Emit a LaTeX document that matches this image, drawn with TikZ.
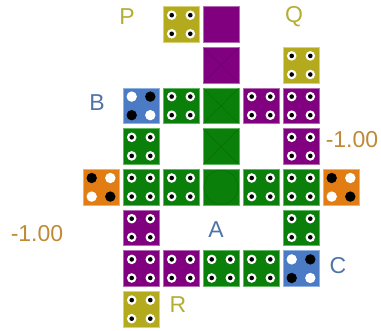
\documentclass[tikz,border=0pt]{standalone}
\usepackage{fontspec}
\setmainfont{Liberation Sans}
\definecolor{gr}{HTML}{0A800A}
\definecolor{grb}{HTML}{62B862}
\definecolor{grx}{HTML}{087008}
\definecolor{pu}{HTML}{800080}
\definecolor{pub}{HTML}{B36AB3}
\definecolor{pux}{HTML}{6E006E}
\definecolor{ye}{HTML}{B3AA1E}
\definecolor{yeb}{HTML}{D8D278}
\definecolor{bl}{HTML}{4A7BC4}
\definecolor{blb}{HTML}{90B2E2}
\definecolor{orng}{HTML}{E27D14}
\definecolor{lblY}{HTML}{B5AE35}
\definecolor{lblB}{HTML}{4F74A8}
\definecolor{lblO}{HTML}{C08A35}
\tikzset{
  cellbase/.style={minimum size=35.8pt, inner sep=0pt, line width=0.8pt},
  gcell/.style={cellbase, draw=grb, fill=gr},
  pcell/.style={cellbase, draw=pub, fill=pu},
  ycell/.style={cellbase, draw=yeb, fill=ye},
  bcell/.style={cellbase, draw=blb, fill=bl},
  ocell/.style={cellbase, draw=orng!60!white, fill=orng},
  lbl/.style={inner sep=0pt, font=\fontsize{23}{23}\selectfont},
}
\newcommand\ringdots[1]{%
  \foreach \dx/\dy in {-9.3/-9.3,9.3/-9.3,-9.3/9.3,9.3/9.3}{%
    \fill[white] ([shift={(\dx,\dy)}]#1.center) circle[radius=4.8pt];
    \fill[black] ([shift={(\dx,\dy)}]#1.center) circle[radius=2.3pt];}}
\newcommand\bwdots[3]{% node, color of TL/BR, color of TR/BL
  \foreach \dx/\dy in {-9.3/-9.3,9.3/9.3}{\fill[#2] ([shift={(\dx,\dy)}]#1.center) circle[radius=5.2pt];}
  \foreach \dx/\dy in {9.3/-9.3,-9.3/9.3}{\fill[#3] ([shift={(\dx,\dy)}]#1.center) circle[radius=5.2pt];}}
\newcommand\xmark[2]{%
  \draw[#2, line width=0.6pt] ([shift={(1,1)}]#1.north west) -- ([shift={(-1,-1)}]#1.south east);
  \draw[#2, line width=0.6pt] ([shift={(-1,1)}]#1.north east) -- ([shift={(1,-1)}]#1.south west);}
\begin{document}
\begin{tikzpicture}[x=1pt,y=-1pt]
\useasboundingbox (0,0) rectangle (381,331);
% row 0
\node[ycell] (r0c2) at (181,24.5) {};
\node[pcell] (r0c3) at (221,24.5) {};
% row 1
\node[pcell] (r1c3) at (221,65.2) {};
\node[ycell] (r1c5) at (301,65.2) {};
% row 2
\node[bcell] (r2c1) at (141,105.9) {};
\node[gcell] (r2c2) at (181,105.9) {};
\node[gcell] (r2c3) at (221,105.9) {};
\node[pcell] (r2c4) at (261,105.9) {};
\node[pcell] (r2c5) at (301,105.9) {};
% row 3
\node[gcell] (r3c1) at (141,146.6) {};
\node[gcell] (r3c3) at (221,146.6) {};
\node[pcell] (r3c5) at (301,146.6) {};
% row 4
\node[ocell] (r4c0) at (101,187.3) {};
\node[gcell] (r4c1) at (141,187.3) {};
\node[gcell] (r4c2) at (181,187.3) {};
\node[gcell] (r4c3) at (221,187.3) {};
\node[gcell] (r4c4) at (261,187.3) {};
\node[gcell] (r4c5) at (301,187.3) {};
\node[ocell] (r4c6) at (341,187.3) {};
% row 5
\node[pcell] (r5c1) at (141,228) {};
\node[gcell] (r5c5) at (301,228) {};
% row 6
\node[pcell] (r6c1) at (141,268.7) {};
\node[pcell] (r6c2) at (181,268.7) {};
\node[gcell] (r6c3) at (221,268.7) {};
\node[gcell] (r6c4) at (261,268.7) {};
\node[bcell] (r6c5) at (301,268.7) {};
% row 7
\node[ycell] (r7c1) at (141,309.4) {};
% dots
\foreach \n in {r0c2,r1c5,r2c2,r2c4,r2c5,r3c1,r3c5,r4c1,r4c2,r4c4,r4c5,r5c1,r5c5,r6c1,r6c2,r6c3,r6c4,r7c1}{\ringdots{\n}}
\bwdots{r2c1}{white}{black}
\bwdots{r6c5}{white}{black}
\bwdots{r4c0}{black}{white}
\bwdots{r4c6}{black}{white}
% marks
\xmark{r1c3}{pux}
\xmark{r2c3}{grx}
\xmark{r3c3}{grx}
\draw[grx, line width=0.6pt] (r4c3.center) circle[radius=17pt];
% labels
\node[lbl, text=lblY] (P) at (127,17) {P};
\node[lbl, text=lblY] (Q) at (294,17) {Q};
\node[lbl, text=lblY] (R) at (178,305) {R};
\node[lbl, text=lblB] (B) at (97,103) {B};
\node[lbl, text=lblB] (A) at (216,230) {A};
\node[lbl, text=lblB] (C) at (338,266) {C};
\node[lbl, text=lblO] (m1) at (352,140) {-1.00};
\node[lbl, text=lblO] (m2) at (37,234) {-1.00};
\end{tikzpicture}
\end{document}
